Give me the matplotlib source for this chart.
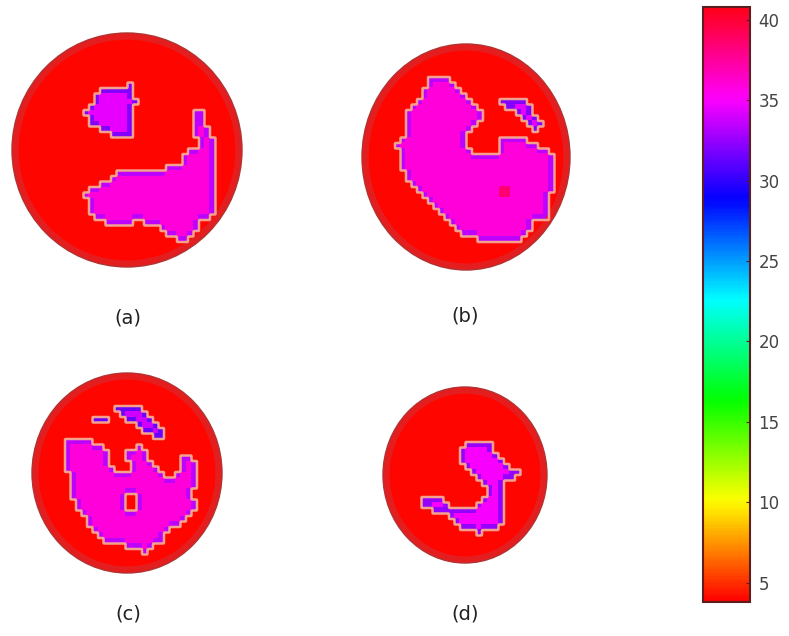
import matplotlib
matplotlib.use('Agg')
import matplotlib.pyplot as plt
import numpy as np
from matplotlib.colors import Normalize
from matplotlib.cm import ScalarMappable
from matplotlib.patches import Ellipse
from matplotlib.path import Path

# ===== field values =====
BACKGROUND = 4.0     # disk background
RIM_DROP = 2.5       # inner edge cells sit this much below their inclusion
SPOT = 38.5          # hot spot value
CBAR_TICKS = [5, 10, 15, 20, 25, 30, 35, 40]
VMIN, VMAX = 3.8, 40.8

PANEL_LABELS = ['(a)', '(b)', '(c)', '(d)']

# inclusion outlines, image pixel coordinates (x, y)
OUTLINES_A = [
    [(85, 110), (105, 87), (133, 85), (137, 103), (132, 113), (132, 138), (113, 137), (90, 125)],
    [(85, 193), (103, 183), (123, 170), (180, 167), (185, 152), (197, 150), (195, 113), (202, 110),
     (217, 150), (218, 180), (215, 197), (217, 210), (200, 223), (190, 240), (180, 243), (163, 230),
     (137, 220), (130, 225), (107, 223), (90, 213)],
]
OUTLINES_B = [
    [(430, 78), (453, 80), (480, 110), (483, 120), (467, 133), (470, 153), (497, 153), (500, 138),
     (527, 140), (553, 153), (557, 180), (550, 193), (547, 217), (533, 223), (523, 240), (493, 242),
     (463, 237), (453, 227), (430, 200), (417, 193), (403, 170), (397, 143), (410, 133), (403, 120),
     (413, 107), (423, 97), (427, 83)],
    [(495, 97), (523, 97), (543, 127), (533, 132), (513, 110), (500, 105)],
]
OUTLINES_C = [
    [(90, 417), (107, 415), (110, 422), (93, 423)],
    [(117, 407), (140, 405), (150, 417), (163, 427), (167, 438), (160, 440), (147, 432), (130, 423),
     (117, 413)],
    [(63, 440), (87, 437), (107, 450), (113, 470), (120, 475), (130, 473), (127, 453), (140, 443),
     (147, 457), (167, 475), (177, 475), (183, 457), (193, 455), (197, 470), (193, 497), (197, 510),
     (183, 523), (167, 533), (160, 543), (143, 553), (133, 547), (107, 543), (97, 533), (83, 517),
     (73, 500), (70, 477), (63, 460)],
]
OUTLINES_D = [
    [(458, 448), (470, 440), (490, 442), (500, 460), (520, 472), (513, 482), (503, 483), (507, 510),
     (500, 527), (480, 533), (463, 530), (450, 517), (433, 510), (420, 503), (423, 497), (440, 498),
     (457, 510), (470, 510), (483, 503), (487, 490), (470, 470), (460, 460)],
]
# value inside each outline
VALUES_A = [34.5, 36.0]
VALUES_B = [36.0, 34.5]
VALUES_C = [34.0, 34.0, 36.0]
VALUES_D = [35.0]

HOLES_C = [[(125, 491), (139, 499), (135, 513), (125, 511)]]
SPOTS_B = [(505, 193)]

OUTLINES = [OUTLINES_A, OUTLINES_B, OUTLINES_C, OUTLINES_D]
VALUES = [VALUES_A, VALUES_B, VALUES_C, VALUES_D]
HOLES = [[], [], HOLES_C, []]
SPOTS = [[], SPOTS_B, [], []]

# ===== layout (image pixels) =====
W, H = 789, 636
DISKS = [(127, 150, 115, 117), (466, 157, 104, 113), (127, 473, 95, 100), (465, 475, 82, 88)]
LABEL_XY = [(128, 318), (465, 316), (128, 614), (465, 614)]
CELL = 5.5
UPSAMPLE = 6
SPOT_RADIUS = 6.0


def build_field(disk, outlines, values, holes, spots):
    cx, cy, rx, ry = disk
    xe = np.arange(cx - rx - CELL, cx + rx + 2 * CELL, CELL)
    ye = np.arange(cy - ry - CELL, cy + ry + 2 * CELL, CELL)
    xc, yc = xe[:-1] + CELL / 2, ye[:-1] + CELL / 2
    X, Y = np.meshgrid(xc, yc)
    pts = np.column_stack([X.ravel(), Y.ravel()])

    field = np.full(X.shape, BACKGROUND)
    inside = np.zeros(X.shape, dtype=bool)
    for poly, val in zip(outlines, values):
        mask = Path(poly).contains_points(pts).reshape(X.shape)
        field[mask] = val
        inside |= mask
    for poly in holes:
        mask = Path(poly).contains_points(pts).reshape(X.shape)
        field[mask] = BACKGROUND
        inside &= ~mask

    core = (inside & np.roll(inside, 1, 0) & np.roll(inside, -1, 0)
            & np.roll(inside, 1, 1) & np.roll(inside, -1, 1))
    field[inside & ~core] -= RIM_DROP
    for sx, sy in spots:
        field[np.hypot(X - sx, Y - sy) <= SPOT_RADIUS] = SPOT
    return field, inside, xe, ye


fig = plt.figure(figsize=(W / 100, H / 100), dpi=100)
ax = fig.add_axes([0, 0, 1, 1])
ax.set_xlim(0, W)
ax.set_ylim(H, 0)
ax.axis('off')

norm = Normalize(VMIN, VMAX)

for disk, outlines, values, holes, spots, label, (lx, ly) in zip(
        DISKS, OUTLINES, VALUES, HOLES, SPOTS, PANEL_LABELS, LABEL_XY):
    cx, cy, rx, ry = disk
    field, inside, xe, ye = build_field(disk, outlines, values, holes, spots)

    clip = Ellipse((cx, cy), 2 * rx, 2 * ry, transform=ax.transData)
    im = ax.imshow(field, cmap='hsv', norm=norm, interpolation='nearest',
                   extent=(xe[0], xe[-1], ye[-1], ye[0]), origin='upper')
    im.set_clip_path(clip)

    # staircase outline of the inclusions
    fine = np.kron(inside.astype(float), np.ones((UPSAMPLE, UPSAMPLE)))
    step = CELL / UPSAMPLE
    fx = xe[0] + step * (np.arange(fine.shape[1]) + 0.5)
    fy = ye[0] + step * (np.arange(fine.shape[0]) + 0.5)
    ax.contour(fx, fy, fine, levels=[0.5], colors='#f4a08e', linewidths=1.8)

    # duller red rim and dark outer edge of the disk
    ax.add_patch(Ellipse((cx, cy), 2 * rx - 7, 2 * ry - 7, fill=False,
                         edgecolor='#e41e1e', linewidth=4.5))
    ax.add_patch(Ellipse((cx, cy), 2 * rx, 2 * ry, fill=False,
                         edgecolor='#b03434', linewidth=1.0))

    ax.text(lx, ly, label, ha='center', va='center', fontsize=14, color='#222222')

# colour bar
top, bottom = 7, 602
cax = fig.add_axes([703 / W, 1 - bottom / H, 47 / W, (bottom - top) / H])
cb = fig.colorbar(ScalarMappable(norm=norm, cmap='hsv'), cax=cax, ticks=CBAR_TICKS)
cb.outline.set_edgecolor('#5a1e1e')
cb.outline.set_linewidth(1.5)
cax.tick_params(labelsize=12, labelcolor='#444444', length=3, direction='in',
                color='#5a1e1e', pad=6)

fig.savefig('out.png', dpi=100)
